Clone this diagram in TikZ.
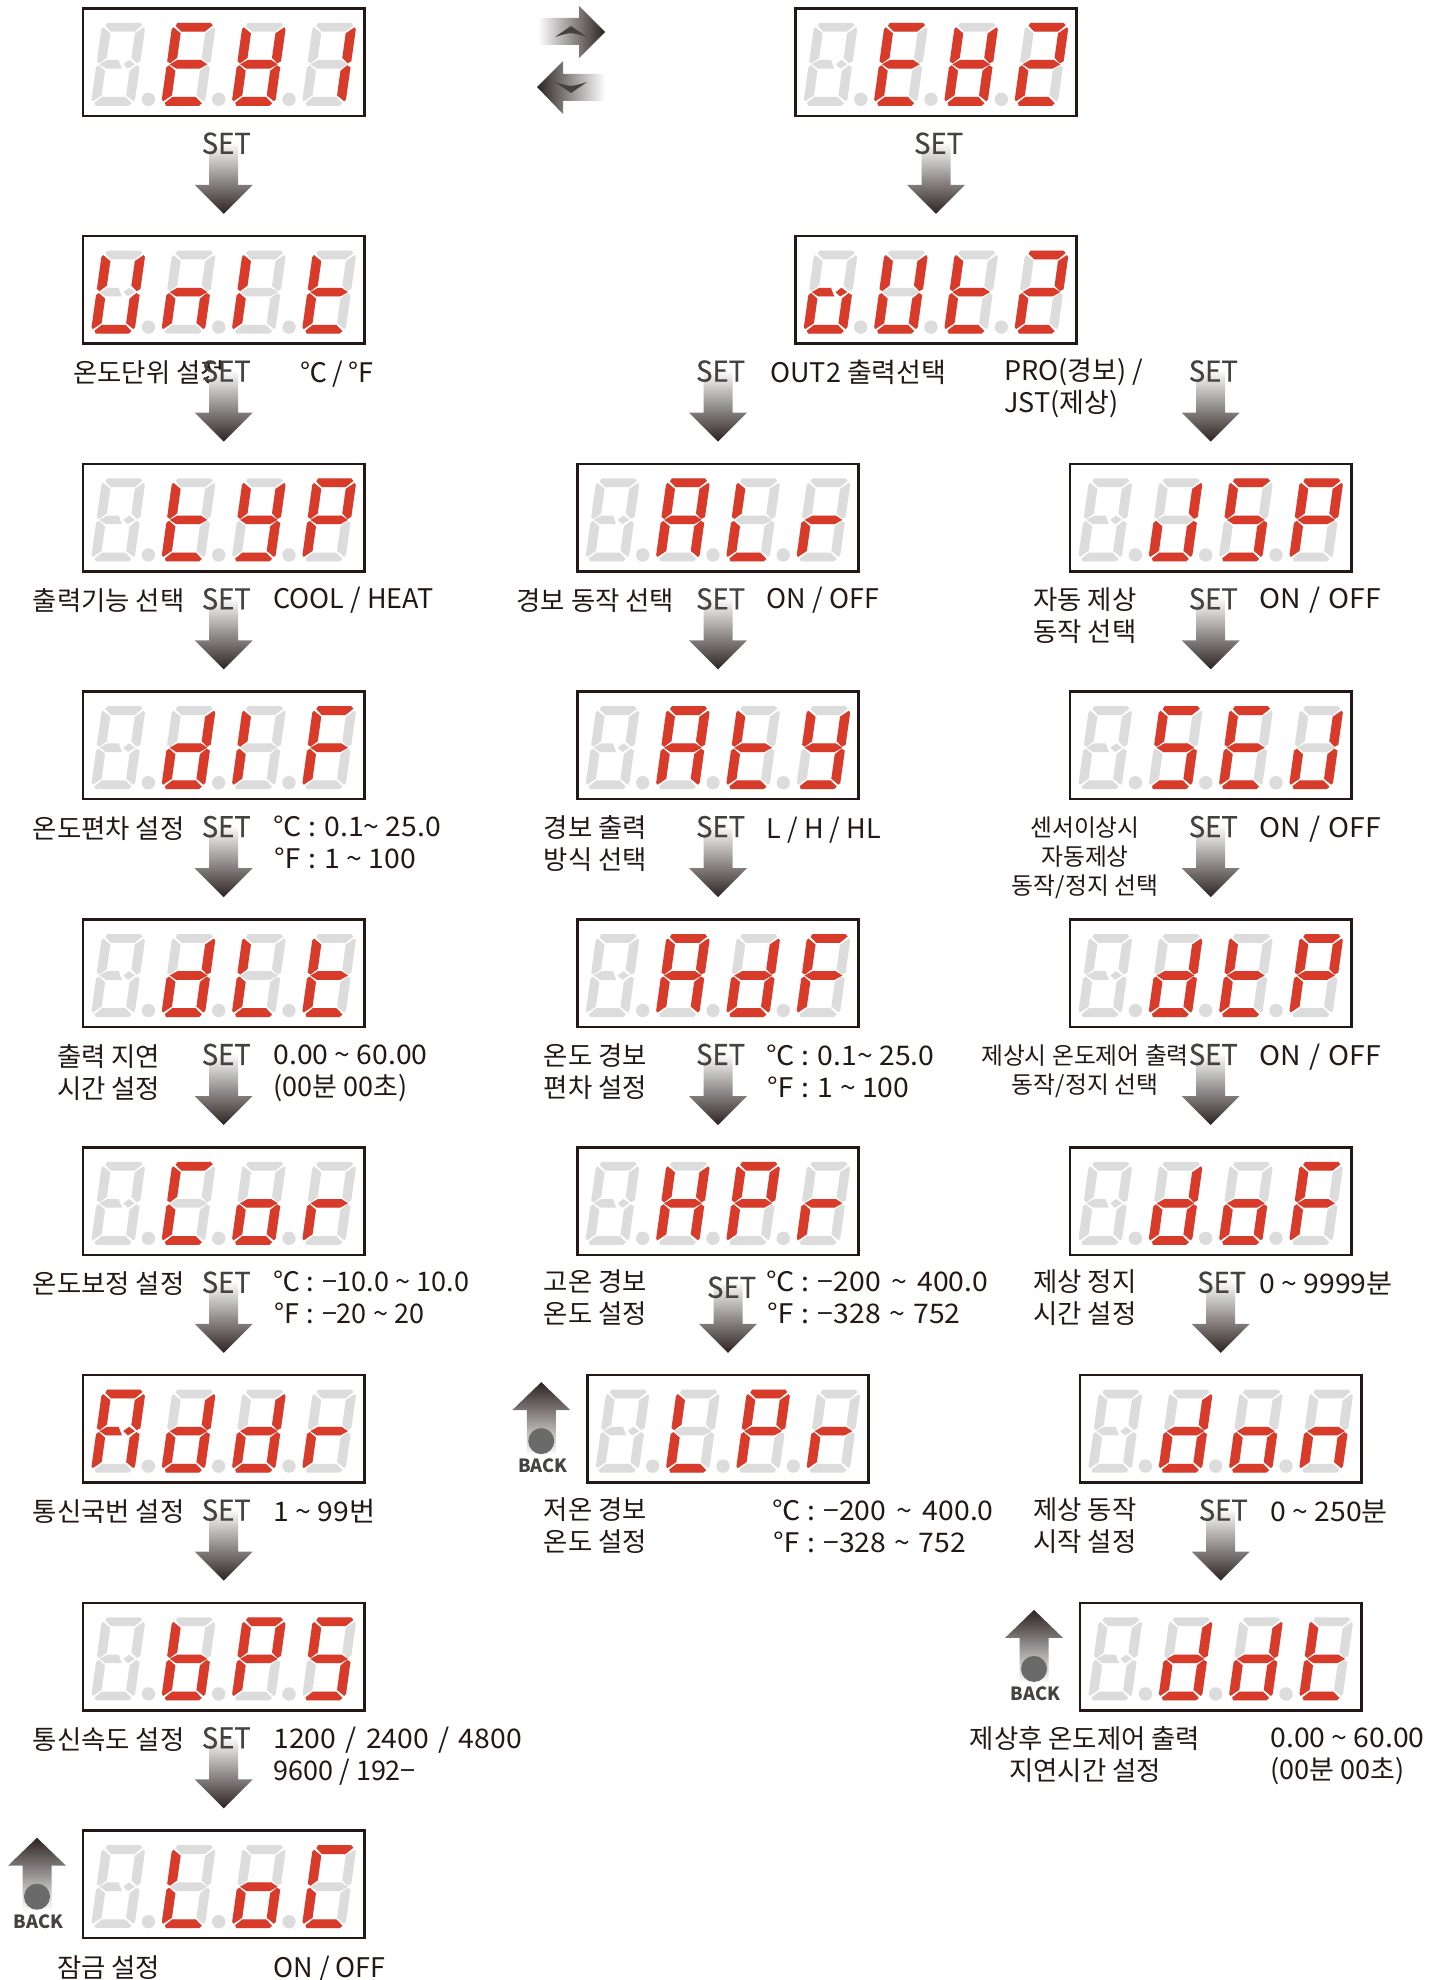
\documentclass[tikz,border=0pt]{standalone}
\usepackage{fontspec}
\setmainfont{Noto Sans CJK KR}
\newfontfamily\numfont[FakeStretch=1.05]{Noto Sans CJK KR}
\newfontfamily\setfont[FakeBold=0.4,FakeStretch=0.96]{Noto Sans CJK KR}
\usepackage{tikz}
\usetikzlibrary{calc}
\definecolor{segred}{HTML}{D93B2A}
\definecolor{segoff}{HTML}{DCDCDC}
\definecolor{inkdark}{HTML}{231815}
\definecolor{setgray}{HTML}{454240}
\definecolor{arrowmid}{HTML}{8A8685}
\definecolor{arrowdark}{HTML}{2B2321}
\definecolor{backdot}{HTML}{6A6A6A}

% seven segments, y counted downwards from the top of a digit
\def\lcdsega{(5,0) -- (38,0) -- (40.5,2.5) -- (33.5,8.8) -- (10,8.8) -- (3.5,3) -- cycle}
\def\lcdsegb{(42,4.5) -- (34,10.5) -- (34,35) -- (40,40.5) -- (43.5,38.5) -- (43.5,6.5) -- cycle}
\def\lcdsegc{(40,42.5) -- (34,48) -- (34,72.5) -- (42,78.5) -- (43.5,76.5) -- (43.5,44.5) -- cycle}
\def\lcdsegd{(5,83) -- (38,83) -- (40.5,80.5) -- (33.5,74.2) -- (10,74.2) -- (3.5,80) -- cycle}
\def\lcdsege{(0,44.5) -- (2.5,42.5) -- (9.5,48) -- (9.5,72.5) -- (1.5,78.5) -- (0,76.5) -- cycle}
\def\lcdsegf{(1.5,4.5) -- (9.5,10.5) -- (9.5,35) -- (3,40.5) -- (0,38.5) -- (0,6.5) -- cycle}
\def\lcdsegg{(3,41.5) -- (10,37.2) -- (33.5,37.2) -- (40.5,41.5) -- (33.5,45.8) -- (10,45.8) -- cycle}
% first digit: middle bar is cut in two
\def\lcdsegh{(3,41.5) -- (10,37.2) -- (21.5,37.2) -- (26,45.8) -- (10,45.8) -- cycle}
\def\lcdsegi{(32,37.2) -- (38.5,41.5) -- (32,45.8) -- (26.8,41.5) -- cycle}
\def\lcdsegz{(0,0)}

\def\glyphblank{z}
\def\glyphAx{a,b,c,e,f,h,i}
\def\glyphox{c,d,e,h,i}
\def\glyphUx{b,c,d,e,f}
\def\glyphA{a,b,c,e,f,g}
\def\glyphb{c,d,e,f,g}
\def\glyphC{a,d,e,f}
\def\glyphd{b,c,d,e,g}
\def\glyphdd{b,c,d,e}
\def\glyphE{a,d,e,f,g}
\def\glyphF{a,e,f,g}
\def\glyphH{b,c,e,f,g}
\def\glyphHb{b,c,d,e,f,g}
\def\glyphI{e,f}
\def\glyphL{d,e,f}
\def\glyphn{c,e,g}
\def\glypho{c,d,e,g}
\def\glyphP{a,b,e,f,g}
\def\glyphr{e,g}
\def\glyphS{a,c,d,f,g}
\def\glypht{d,e,f,g}
\def\glyphU{b,c,d,e,f}
\def\glyphy{b,c,d,f,g}
\def\glyphone{b,c}
\def\glyphtwo{a,b,d,e,g}
\def\offfirst{a,b,c,d,e,f,h,i}
\def\offrest{a,b,c,d,e,f,g}

\newcommand{\lcdfill}[2]{\fill[#1] \csname lcdseg#2\endcsname;}

\newcommand{\lcd}[4]{%
  \node[lcdbox] (#1) at (#2,#3) {};
  \foreach \dotn in {0,1,2}
    \fill[segoff] ({#2-141+65.7+70.3*\dotn},{#3+91}) circle (6.7);
  \foreach \g [count=\i from 0] in {#4} {
    \pgfmathsetmacro{\dx}{#2-141+19.6+70.3*\i}
    \pgfmathsetmacro{\dy}{#3+14.5}
    \ifnum\i=0 \let\offlist\offfirst \else \let\offlist\offrest \fi
    \edef\onlist{\csname glyph\g\endcsname}
    \begin{scope}[shift={(\dx,\dy)},xslant=0.14]
      \foreach \s in \offlist {\lcdfill{segoff}{\s}}
      \foreach \s in \onlist {\lcdfill{segred}{\s}}
    \end{scope}
  }
}

\newcommand{\setarrow}[2][]{%
  \shade[setshade] ([yshift=11.15pt]#2.north) -- ++(29,-29) -- ++(-14.5,0) -- ++(0,-43)
    -- ++(-29,0) -- ++(0,43) -- ++(-14.5,0) -- cycle;
  \node[setlbl,#1] (set-#2) at ([xshift=1.3pt,yshift=46.4pt]#2.north) {SET};
}

\newcommand{\backarrow}[1]{%
  \shade[backshade] ([xshift=-23pt,yshift=-3.5pt]#1.north west) -- ++(29,28) -- ++(-14.5,0) -- ++(0,45)
    -- ++(-29,0) -- ++(0,-45) -- ++(-14.5,0) -- cycle;
  \fill[backdot] ([xshift=-23pt,yshift=-33pt]#1.north west) circle (13);
  \node[backlbl] (back-#1) at ([xshift=-22.2pt,yshift=-45.5pt]#1.north west) {BACK};
}

\newcommand{\tld}{\textasciitilde}
\newcommand{\ms}{−}

\tikzset{
  lcdbox/.style={draw=inkdark, line width=1.25pt, fill=white, anchor=north, minimum width=140.7pt,
    minimum height=53.75pt, inner sep=0pt, outer sep=0pt},
  setshade/.style={top color=white, middle color=arrowmid, bottom color=arrowdark},
  backshade/.style={top color=arrowdark, middle color=arrowmid, bottom color=white},
  setlbl/.style={text=setgray, inner sep=0pt, font=\fontsize{14.3}{16}\setfont},
  backlbl/.style={text=setgray, inner sep=0pt, font=\fontsize{9.1}{12}\selectfont\bfseries},
  lbl/.style={text=inkdark, anchor=north, align=center, inner sep=0pt,
    font=\fontsize{13.2}{16}\selectfont, execute at begin node={\rule{0pt}{12pt}}},
  lblsmall/.style={lbl, font=\fontsize{11.9}{14.7}\selectfont},
  val/.style={text=inkdark, anchor=north west, align=left, inner sep=0pt,
    font=\fontsize{13.5}{16}\selectfont, execute at begin node={\rule{0pt}{12pt}}},
  valnum/.style={val, font=\fontsize{13.5}{16}\numfont},
}

\begin{document}
\begin{tikzpicture}[x=0.5pt,y=-0.5pt]
  \useasboundingbox (0,0) rectangle (1442,1980);

  % first column
  \lcd{ehi}{223.7}{8.3}{blank,E,Hb,one}
  \lcd{unit}{223.7}{236.1}{Ux,n,I,t}
  \lcd{typ}{223.7}{463.9}{blank,t,y,P}
  \lcd{dif}{223.7}{691.7}{blank,d,I,F}
  \lcd{dlt}{223.7}{919.5}{blank,d,L,t}
  \lcd{cor}{223.7}{1147.3}{blank,C,o,r}
  \lcd{addr}{223.7}{1375.1}{Ax,d,d,r}
  \lcd{bps}{223.7}{1602.9}{blank,b,P,S}
  \lcd{loc}{223.7}{1830.7}{blank,L,o,C}

  % second group
  \lcd{ehii}{936}{8.3}{blank,E,Hb,two}
  \lcd{outii}{936}{236.1}{ox,U,t,two}
  \lcd{alr}{718}{463.9}{blank,A,L,r}
  \lcd{aty}{718}{691.7}{blank,A,t,y}
  \lcd{adf}{718}{919.5}{blank,A,d,F}
  \lcd{hpr}{718}{1147.3}{blank,H,P,r}
  \lcd{lpr}{728}{1375.1}{blank,L,P,r}

  % third column
  \lcd{dsp}{1210.7}{463.9}{blank,dd,S,P}
  \lcd{sed}{1210.7}{691.7}{blank,S,E,dd}
  \lcd{dtp}{1210.7}{919.5}{blank,d,t,P}
  \lcd{dof}{1210.7}{1147.3}{blank,d,o,F}
  \lcd{don}{1220.7}{1375.1}{blank,d,o,n}
  \lcd{ddt}{1220.7}{1602.9}{blank,d,d,t}

  % labels, left
  \node[lbl] (l-unit) at (149,358) {온도단위 설정};
  \node[lbl] (l-typ) at (108.6,586) {출력기능 선택};
  \node[lbl] (l-dif) at (108.6,814) {온도편차 설정};
  \node[lbl] (l-dlt) at (108.6,1044) {출력 지연\\시간 설정};
  \node[lbl] (l-cor) at (108.6,1269) {온도보정 설정};
  \node[lbl] (l-addr) at (108.6,1497) {통신국번 설정};
  \node[lbl] (l-bps) at (108.6,1725) {통신속도 설정};
  \node[lbl] (l-loc) at (108.6,1953) {잠금 설정};

  \node[lbl] (l-alr) at (595.4,586) {경보 동작 선택};
  \node[lbl] (l-aty) at (595.4,815.5) {경보 출력\\방식 선택};
  \node[lbl] (l-adf) at (595.4,1043.5) {온도 경보\\편차 설정};
  \node[lbl] (l-hpr) at (595.4,1269) {고온 경보\\온도 설정};
  \node[lbl] (l-lpr) at (595.4,1497.5) {저온 경보\\온도 설정};

  \node[lbl] (l-dsp) at (1085,587) {자동 제상\\동작 선택};
  \node[lblsmall] (l-sed) at (1085,816) {센서이상시\\자동제상\\동작/정지 선택};
  \node[lblsmall] (l-dtp) at (1085,1044) {제상시 온도제어 출력\\동작/정지 선택};
  \node[lbl] (l-dof) at (1085,1269) {제상 정지\\시간 설정};
  \node[lbl] (l-don) at (1085,1497.5) {제상 동작\\시작 설정};
  \node[lbl] (l-ddt) at (1085,1726) {제상후 온도제어 출력\\지연시간 설정};

  % labels, right
  \node[val] (v-unit) at (300.5,358) {℃\,/\,℉};
  \node[val] (v-typ) at (273,584.5) {COOL / HEAT};
  \node[valnum] (v-dif) at (273,815.5) {℃ : 0.1\tld{} 25.0\\℉ : 1 \tld{} 100};
  \node[valnum] (v-dlt) at (273,1044) {0.00 \tld{} 60.00\\{\rmfamily(00분 00초)}};
  \node[val] (v-cor) at (273,1270) {℃ : \ms10.0 \tld{} 10.0\\℉ : \ms20 \tld{} 20};
  \node[valnum] (v-addr) at (273,1497) {1 \tld{} 99번};
  \node[valnum] (v-bps) at (273,1726.5) {1200\hspace{1.5pt} / \hspace{1.5pt}2400\hspace{1.5pt} / \hspace{1.5pt}4800\\{\rmfamily 9600 / 192\ms}};
  \node[val] (v-loc) at (273,1953) {ON / OFF};

  \node[val] (v-out) at (770,358) {OUT2 출력선택};
  \node[val] (v-pro) at (1004,358) {PRO(경보) /\\JST(제상)};
  \node[val] (v-alr) at (766.5,584.5) {ON / OFF};
  \node[val] (v-aty) at (766.5,814) {L / H / HL};
  \node[valnum] (v-adf) at (766.5,1044) {℃ : 0.1\tld{} 25.0\\℉ : 1 \tld{} 100};
  \node[valnum] (v-hpr) at (766.5,1270) {℃ : \ms200\hspace{2pt} \tld{} \hspace{2pt}400.0\\℉ : \ms328\hspace{1pt} \tld{} \hspace{1pt}752};
  \node[valnum] (v-lpr) at (772,1499) {℃ : \ms200\hspace{2pt} \tld{} \hspace{2pt}400.0\\℉ : \ms328\hspace{1pt} \tld{} \hspace{1pt}752};

  \node[valnum] (v-dsp) at (1259,584.5) {ON\hspace{1pt} / \hspace{1pt}OFF};
  \node[valnum] (v-sed) at (1259,813) {ON\hspace{1pt} / \hspace{1pt}OFF};
  \node[valnum] (v-dtp) at (1259,1041.5) {ON\hspace{1pt} / \hspace{1pt}OFF};
  \node[valnum] (v-dof) at (1259,1269) {0 \tld{} 9999분};
  \node[valnum] (v-don) at (1270,1497) {0 \tld{} 250분};
  \node[valnum] (v-ddt) at (1270,1727) {0.00 \tld{} 60.00\\{\rmfamily(00분 00초)}};

  % SET arrows
  \setarrow{unit}
  \setarrow{typ}
  \setarrow{dif}
  \setarrow{dlt}
  \setarrow{cor}
  \setarrow{addr}
  \setarrow{bps}
  \setarrow{loc}
  \setarrow{outii}
  \setarrow{alr}
  \setarrow{aty}
  \setarrow{adf}
  \setarrow{hpr}
  \setarrow[yshift=-2.5pt,xshift=0.5pt]{lpr}
  \setarrow{dsp}
  \setarrow{sed}
  \setarrow{dtp}
  \setarrow{dof}
  \setarrow[xshift=-0.8pt]{don}
  \setarrow{ddt}

  % BACK arrows
  \backarrow{loc}
  \backarrow{lpr}
  \backarrow{ddt}

  % swap arrows between the two top displays
  \coordinate (swapr) at (605,32);
  \coordinate (swapl) at (537,87);
  \shade[left color=white, middle color=arrowmid, right color=arrowdark] (swapr) -- ++(-26,-26) -- ++(0,12)
    -- ++(-41,0) -- ++(0,27) -- ++(41,0) -- ++(0,13) -- cycle;
  \shade[right color=white, middle color=arrowmid, left color=arrowdark] (swapl) -- ++(26,-26) -- ++(0,13)
    -- ++(42,0) -- ++(0,27) -- ++(-42,0) -- ++(0,13) -- cycle;
  \fill[setgray] (555,37) -- (571,26) -- (587,37) .. controls (571,32) .. (555,37) -- cycle;
  \fill[setgray] (555,82) -- (571,93) -- (587,82) .. controls (571,87) .. (555,82) -- cycle;
\end{tikzpicture}
\end{document}
